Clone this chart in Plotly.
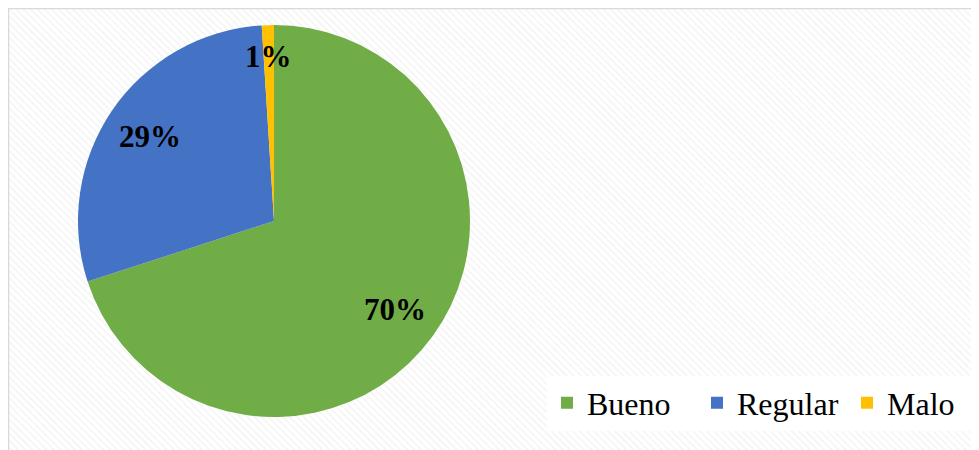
import math
import plotly.graph_objects as go

categories = ["Bueno", "Regular", "Malo"]
values = [70, 29, 1]
colors = ["#70AD47", "#4472C4", "#FFC000"]

W, H = 971, 442
fig = go.Figure()

# hatched chart-area background
fig.add_trace(go.Scatter(
    x=[0, W + 2, W + 2, 0, 0], y=[-2, -2, H + 1, H + 1, -2],
    mode="lines", fill="toself", line=dict(width=0),
    fillcolor="white",
    fillpattern=dict(shape="\\", fgcolor="#ececec", bgcolor="white", size=5, solidity=0.35),
    hoverinfo="skip", showlegend=False,
))

# pie geometry (pixels within figure)
cx_px, cy_px, r_px = 266, 213, 196
dom_x = [(cx_px - r_px) / W, (cx_px + r_px) / W]
dom_y = [1 - (cy_px + r_px) / H, 1 - (cy_px - r_px) / H]

fig.add_trace(go.Pie(
    labels=categories, values=values, sort=False, direction="clockwise", rotation=0,
    marker=dict(colors=colors, line=dict(width=0)),
    textinfo="none", hoverinfo="label+percent",
    domain=dict(x=dom_x, y=dom_y),
))

# data labels placed along each slice bisector
total = sum(values)
cum = 0
for v in values:
    share = v / total
    mid = (cum + v / 2) / total * 2 * math.pi
    cum += v
    f = 0.84 if share < 0.05 else 0.765
    px = cx_px + f * r_px * math.sin(mid)
    py = cy_px - f * r_px * math.cos(mid)
    fig.add_annotation(
        x=px / W, y=1 - py / H, xref="paper", yref="paper",
        xanchor="center", yanchor="middle",
        text=f"<b>{round(share * 100)}%</b>", showarrow=False,
        font=dict(family="Liberation Serif", size=31, color="black"),
    )

fig.add_shape(type="rect", xref="paper", yref="paper",
              x0=0.0005, x1=1.01, y0=-0.01, y1=0.999,
              line=dict(color="#d9d9d9", width=1.5), layer="above")

fig.update_layout(
    width=W, height=H, margin=dict(l=0, r=0, t=0, b=0, autoexpand=False),
    paper_bgcolor="white", plot_bgcolor="white",
    xaxis=dict(visible=False, range=[0, W], domain=[0, 1], fixedrange=True),
    yaxis=dict(visible=False, range=[0, H], domain=[0, 1], fixedrange=True),
    font=dict(family="Liberation Serif", size=32, color="black"),
    legend=dict(orientation="h", x=539 / W, xanchor="left", y=1 - 395 / H, yanchor="middle",
                bgcolor="white", itemwidth=30, entrywidth=105, entrywidthmode="pixels",
                font=dict(size=32), traceorder="normal"),
    showlegend=True,
)

fig.write_html("out.html")
